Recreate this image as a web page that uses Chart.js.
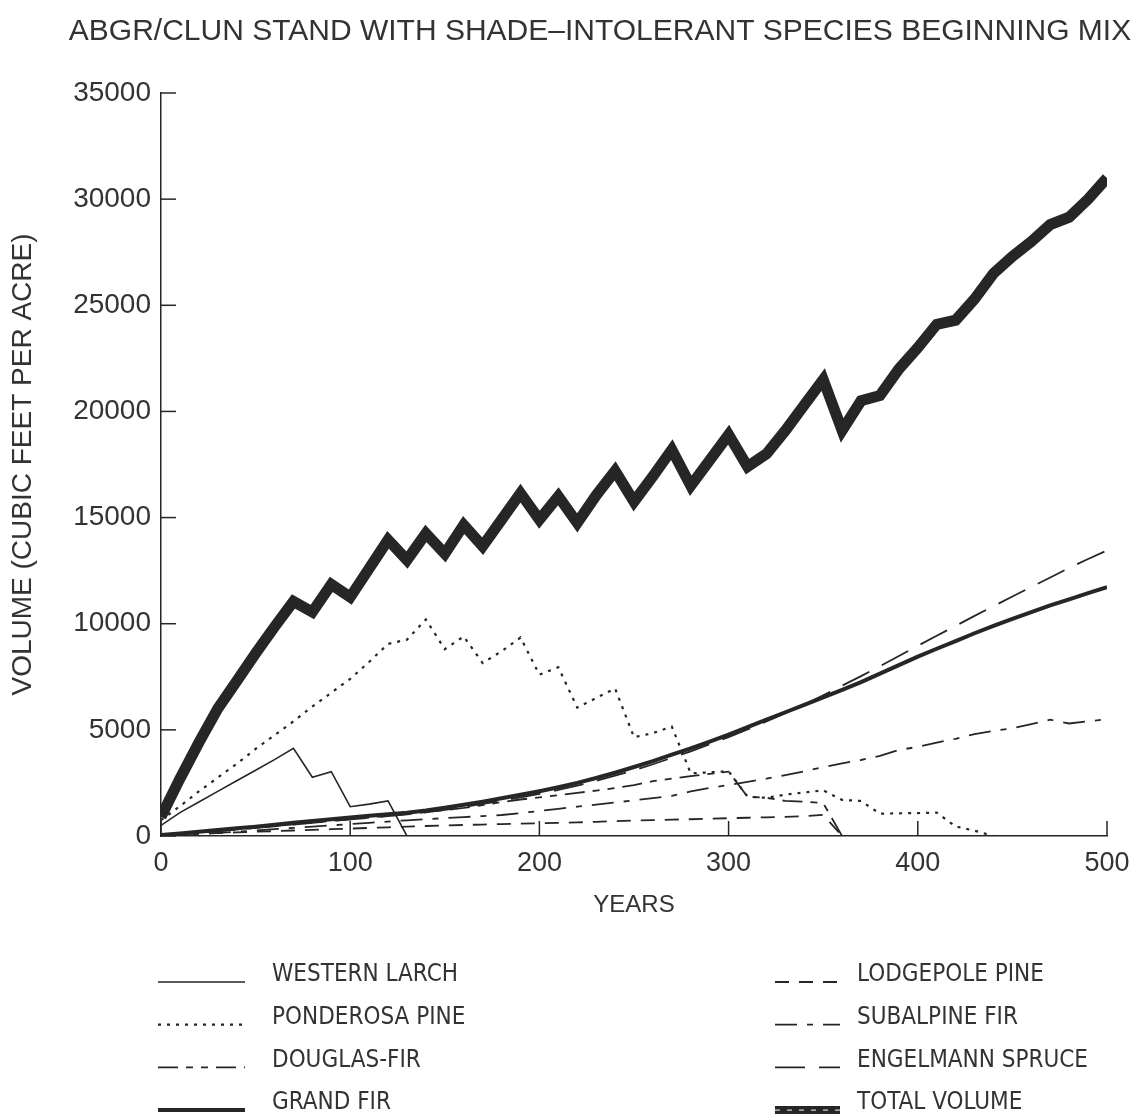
<!DOCTYPE html>
<html>
<head>
<meta charset="utf-8">
<script src="https://cdn.jsdelivr.net/npm/chart.js@4.4.1/dist/chart.umd.min.js"></script>
<style>
  html, body { margin: 0; padding: 0; background: #fff; }
  #wrap { width: 1142px; height: 1118px; }
</style>
</head>
<body>
<div id="wrap"><canvas id="volumeChart" width="1142" height="1118"></canvas></div>
<script>
// years of the simulation, one point every decade
var years = [0, 10, 20, 30, 40, 50, 60, 70, 80, 90,
  100, 110, 120, 130, 140, 150, 160, 170, 180, 190,
  200, 210, 220, 230, 240, 250, 260, 270, 280, 290,
  300, 310, 320, 330, 340, 350, 360, 370, 380, 390,
  400, 410, 420, 430, 440, 450, 460, 470, 480, 490, 500];

var xTicks = [0, 100, 200, 300, 400, 500];
var yTicks = [0, 5000, 10000, 15000, 20000, 25000, 30000, 35000];

// volume, cubic feet per acre
var westernLarch = [500, 1100, 1600, 2100, 2600, 3100, 3600, 4130, 2770, 3030,
  1380, 1500, 1650, 0, 0, 0, 0, 0, 0, 0,
  0, 0, 0, 0, 0, 0, 0, 0, 0, 0,
  0, 0, 0, 0, 0, 0, 0, 0, 0, 0,
  0, 0, 0, 0, 0, 0, 0, 0, 0, 0, 0];

var ponderosaPine = [750, 1400, 2100, 2750, 3400, 4100, 4750, 5400, 6100, 6750,
  7400, 8200, 9050, 9250, 10200, 8800, 9400, 8150, 8700, 9350,
  7600, 7950, 6050, 6500, 6950, 4650, 4850, 5150, 2950, 3000,
  3050, 1850, 1800, 1950, 2050, 2150, 1700, 1650, 1050, 1070,
  1080, 1100, 450, 250, 0, 0, 0, 0, 0, 0, 0];

var douglasFir = [40, 100, 170, 240, 310, 390, 470, 550, 630, 710,
  790, 870, 950, 1030, 1120, 1220, 1320, 1450, 1600, 1720,
  1820, 1920, 2030, 2140, 2260, 2400, 2580, 2700, 2820, 2930,
  3030, 1850, 1800, 1650, 1620, 1550, 0, 0, 0, 0,
  0, 0, 0, 0, 0, 0, 0, 0, 0, 0, 0];

var grandFir = [50, 120, 200, 280, 360, 440, 530, 620, 710, 790,
  870, 950, 1030, 1100, 1200, 1330, 1470, 1620, 1780, 1940,
  2110, 2300, 2500, 2730, 2980, 3250, 3530, 3830, 4130, 4450,
  4780, 5130, 5480, 5830, 6180, 6530, 6880, 7250, 7650, 8050,
  8450, 8820, 9180, 9550, 9900, 10230, 10550, 10860, 11150, 11440, 11720];

var lodgepolePine = [50, 80, 110, 140, 170, 200, 230, 260, 290, 320,
  350, 380, 410, 440, 470, 500, 520, 540, 560, 580,
  600, 620, 640, 670, 700, 730, 750, 770, 790, 810,
  840, 860, 880, 900, 930, 1000, 0, 0, 0, 0,
  0, 0, 0, 0, 0, 0, 0, 0, 0, 0, 0];

var subalpineFir = [20, 60, 100, 150, 200, 260, 320, 380, 440, 500,
  560, 620, 680, 740, 790, 840, 890, 940, 990, 1080,
  1180, 1280, 1380, 1480, 1580, 1680, 1780, 1890, 2100, 2260,
  2400, 2550, 2700, 2870, 3050, 3250, 3420, 3580, 3780, 4050,
  4200, 4400, 4580, 4800, 4950, 5070, 5270, 5480, 5300, 5400, 5500];

var engelmannSpruce = [30, 90, 160, 230, 300, 380, 460, 540, 620, 700,
  780, 860, 940, 1020, 1110, 1230, 1370, 1510, 1660, 1820,
  1990, 2170, 2370, 2600, 2840, 3100, 3380, 3680, 3990, 4320,
  4660, 5020, 5400, 5790, 6190, 6630, 7080, 7530, 8000, 8480,
  8960, 9430, 9900, 10370, 10830, 11280, 11730, 12180, 12630, 13050, 13450];

var totalVolume = [900, 2700, 4400, 6000, 7300, 8600, 9850, 11050, 10550, 11850,
  11250, 12600, 13950, 13000, 14250, 13300, 14650, 13650, 14900, 16150,
  14900, 16000, 14750, 16050, 17200, 15750, 16950, 18200, 16500, 17700,
  18900, 17400, 18000, 19100, 20300, 21500, 19100, 20500, 20750, 22000,
  23000, 24100, 24300, 25300, 26500, 27300, 28000, 28800, 29150, 30000, 31000];

var INK = '#262626';
var TEXT = '#333';
var SANS = '"Liberation Sans", Arial, sans-serif';
var NARROW = '"Liberation Sans Narrow", "DejaVu Sans Condensed", "Liberation Sans", sans-serif';

function pts(values) {
  return years.map(function (y, i) { return { x: y, y: values[i] }; });
}

function series(label, values, width, dash) {
  return {
    label: label,
    data: pts(values),
    borderColor: INK,
    borderWidth: width,
    borderDash: dash,
    borderJoinStyle: 'miter',
    pointRadius: 0,
    tension: 0,
    fill: false
  };
}

var datasets = [
  series('WESTERN LARCH', westernLarch, 1.6, []),
  series('PONDEROSA PINE', ponderosaPine, 2.2, [3, 6]),
  series('DOUGLAS-FIR', douglasFir, 1.8, [20, 8, 7, 8, 7, 8]),
  series('GRAND FIR', grandFir, 4, []),
  series('LODGEPOLE PINE', lodgepolePine, 1.8, [14, 10]),
  series('SUBALPINE FIR', subalpineFir, 1.8, [22, 10, 6, 10]),
  series('ENGELMANN SPRUCE', engelmannSpruce, 1.8, [30, 14]),
  series('TOTAL VOLUME', totalVolume, 11, [])
];
// light hatching inside the thick total line
var hatch = series('', totalVolume, 1.4, [5, 7]);
hatch.borderColor = '#d0d0d0';
datasets.push(hatch);

var legendOrder = [
  { i: 0, col: 0, row: 0 }, { i: 1, col: 0, row: 1 }, { i: 2, col: 0, row: 2 }, { i: 3, col: 0, row: 3 },
  { i: 4, col: 1, row: 0 }, { i: 5, col: 1, row: 1 }, { i: 6, col: 1, row: 2 }, { i: 7, col: 1, row: 3 }
];

var extras = {
  id: 'extras',
  afterDraw: function (chart) {
    var ctx = chart.ctx, xs = chart.scales.x, ys = chart.scales.y;
    ctx.save();
    // inward tick marks
    ctx.strokeStyle = INK;
    ctx.lineWidth = 1.5;
    ys.ticks.forEach(function (t) {
      var py = ys.getPixelForValue(t.value);
      ctx.beginPath(); ctx.moveTo(xs.left, py); ctx.lineTo(xs.left + 15, py); ctx.stroke();
    });
    xs.ticks.forEach(function (t) {
      var px = xs.getPixelForValue(t.value);
      ctx.beginPath(); ctx.moveTo(px, ys.bottom); ctx.lineTo(px, ys.bottom - 15); ctx.stroke();
    });

    // title
    ctx.fillStyle = TEXT;
    ctx.font = '30px ' + SANS;
    ctx.textAlign = 'center';
    ctx.textBaseline = 'middle';
    ctx.fillText('ABGR/CLUN STAND WITH SHADE\u2013INTOLERANT SPECIES BEGINNING MIX', 600, 32);

    // legend, two columns
    ctx.font = '24px ' + NARROW;
    ctx.textAlign = 'left';
    legendOrder.forEach(function (e) {
      var ds = chart.data.datasets[e.i];
      var y = 975 + e.row * 42.7;
      var x0 = e.col === 0 ? 158 : 775;
      var x1 = e.col === 0 ? 245 : 840;
      var tx = e.col === 0 ? 272 : 857;
      ctx.strokeStyle = INK;
      ctx.lineWidth = Math.min(ds.borderWidth, 8);
      ctx.setLineDash(ds.borderDash);
      ctx.lineCap = 'butt';
      ctx.beginPath(); ctx.moveTo(x0, y + 7); ctx.lineTo(x1, y + 7); ctx.stroke();
      if (e.i === 7) {
        ctx.strokeStyle = hatch.borderColor;
        ctx.lineWidth = hatch.borderWidth;
        ctx.setLineDash(hatch.borderDash);
        ctx.beginPath(); ctx.moveTo(x0, y + 7); ctx.lineTo(x1, y + 7); ctx.stroke();
      }
      ctx.setLineDash([]);
      ctx.fillStyle = TEXT;
      ctx.fillText(ds.label, tx, y);
    });
    ctx.restore();
  }
};

var ctx = document.getElementById('volumeChart').getContext('2d');
var volumeChart = new Chart(ctx, {
  type: 'line',
  data: { datasets: datasets },
  options: {
    responsive: false,
    animation: false,
    devicePixelRatio: 1,
    layout: { padding: { top: 93, right: 35, bottom: 198, left: 0 } },
    plugins: {
      legend: { display: false },
      tooltip: { enabled: false }
    },
    scales: {
      x: {
        type: 'linear',
        min: 0,
        max: 500,
        afterBuildTicks: function (scale) { scale.ticks = xTicks.map(function (v) { return { value: v }; }); },
        afterFit: function (scale) { scale.height = 84; },
        grid: { display: false },
        border: { display: true, color: INK, width: 1.5 },
        ticks: {
          color: TEXT,
          padding: 3,
          font: { family: SANS, size: 27 },
          callback: function (v) { return String(v); }
        },
        title: {
          display: true,
          text: 'YEARS',
          color: TEXT,
          padding: { top: 6, bottom: 0 },
          font: { family: SANS, size: 24 }
        }
      },
      y: {
        min: 0,
        max: 35000,
        afterBuildTicks: function (scale) { scale.ticks = yTicks.map(function (v) { return { value: v }; }); },
        afterFit: function (scale) { scale.width = 161; },
        grid: { display: false },
        border: { display: true, color: INK, width: 1.5 },
        ticks: {
          color: TEXT,
          padding: 2,
          font: { family: SANS, size: 28 },
          callback: function (v) { return String(v); }
        },
        title: {
          display: true,
          text: 'VOLUME (CUBIC FEET PER ACRE)',
          color: TEXT,
          padding: { top: 6, bottom: 0 },
          font: { family: SANS, size: 28 }
        }
      }
    }
  },
  plugins: [extras]
});
</script>
</body>
</html>
